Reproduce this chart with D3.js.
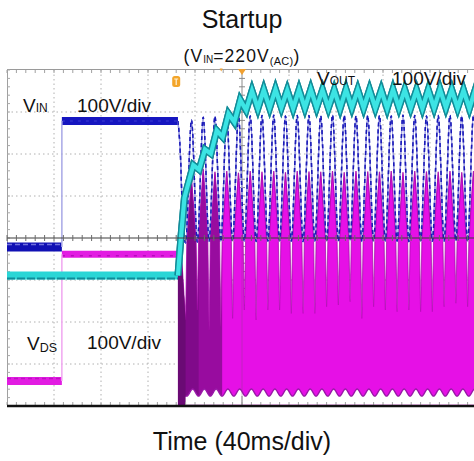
<!DOCTYPE html>
<html><head><meta charset="utf-8">
<script src="https://cdn.jsdelivr.net/npm/d3@7"></script>
<style>
body{margin:0;background:#fff}
svg{display:block}
text{font-family:"Liberation Sans",Arial,Helvetica,sans-serif;fill:#111}
</style>
</head><body>
<svg id="c" width="474" height="461"></svg>
<script>
// ---------------- data (time in ms, voltages in V) ----------------
const timeDomain = [-200, 200];          // 40 ms/div, 10 div
const divDomain = [-4, 4];               // 8 vertical divisions
const voltsPerDiv = 100;
const stepTime = -153.3;                 // AC applied
const startTime = -54.5;                 // converter starts switching

const peakTimes   = [-43,-33,-23,-13,-3,7,17,27,37,47,57,67,77,87,97,107,117,127,137,147,157,167,177,187,197];
const troughTimes = [-48,-38,-28,-18,-8,2,12,22,32,42,52,62,72,82,92,102,112,122,132,142,152,162,172,182,192,202];

// V_IN
const vinPre = 0, vinDC = 300;
const vinStartT = [-54.5, -52.5, -50.5];
const vinStartV = [300, 225, 70];
const vinPeaks   = [302,309,311,312,313,312,313,314,312,313,313,312,314,313,312,313,313,312,314,313,312,313,313,312,313];
const vinTroughs = [10,12,14,13,14,15,13,14,15,14,13,15,14,14,15,13,14,15,14,13,15,14,14,15,13,14];

// V_DS
const vdsPre = 0, vdsDC = 302;
const vdsStartT = [-54.5, -53.2];
const vdsStartV = [302, 376];
const vdsPeaks   = [480,505,498,500,496,500,498,500,497,500,499,498,500,497,500,499,498,500,497,500,499,498,500,497,500];
const vdsTroughs = [145,169,121,129,149,169,145,169,169,161,161,161,177,181,189,149,177,169,165,169,165,165,177,185,177,170];
const vdsShoulder = 338, vdsSpikeHalf = 3.9;
const vdsNotch = -19, vdsFloor = -36, vdsNotchLag = 1;

// V_OUT
const voutPre = 0;
const voutStartT = [-54.5, -52, -49];
const voutStartV = [0, 90, 185];
const voutPeakTimes   = [-41.5,-31.5,-21.5,-11.5,-1.5,8.5,18.5,28.5,38.5,48.5,58.5,68.5,78.5,88.5,98.5,108.5,118.5,128.5,138.5,148.5,158.5,168.5,178.5,188.5,198.5];
const voutTroughTimes = [-36.5,-26.5,-16.5,-6.5,3.5,13.5,23.5,33.5,43.5,53.5,63.5,73.5,83.5,93.5,103.5,113.5,123.5,133.5,143.5,153.5,163.5,173.5,183.5,193.5,203.5];
const voutPeaks   = [263,300,345,385,418,440,442,443,441,442,443,442,441,443,442,442,441,443,442,441,442,443,442,441,442];
const voutTroughs = [252,290,330,365,394,398,399,400,398,399,400,399,398,400,399,399,398,400,399,398,399,400,399,398,399];

// ---------------- scope settings ----------------
const ch = { vin: -0.214, vds: -3.405, vout: -0.893 };   // ground position (div)

const svg = d3.select("#c");
const x = d3.scaleLinear().domain(timeDomain).range([7, 477]);
const yDiv = d3.scaleLinear().domain(divDomain).range([406, 70]);
const yV = (off, v) => yDiv(off + v / voltsPerDiv);
const X0 = 7, X1 = 474, Y0 = yDiv(4), Y1 = yDiv(-4);

const defs = svg.append("defs");
defs.append("clipPath").attr("id", "plot").append("rect")
  .attr("x", X0).attr("y", Y0 - 1).attr("width", X1 - X0).attr("height", Y1 - Y0 + 1);

// ---------------- grid ----------------
const gridG = svg.append("g");
const vLines = d3.range(-160, 161, 40).filter(t => t !== 0);
const hLines = [-3, -2, -1, 1, 2, 3];
const minorT = d3.range(-200, 201, 8);
const minorD = d3.range(-4, 4.01, 0.2);
vLines.forEach(t => gridG.append("line").attr("x1", x(t)).attr("x2", x(t)).attr("y1", Y0).attr("y2", Y1)
  .attr("stroke", "#b0b0b0").attr("stroke-dasharray", "1.5 3"));
hLines.forEach(d => gridG.append("line").attr("x1", X0).attr("x2", X1).attr("y1", yDiv(d)).attr("y2", yDiv(d))
  .attr("stroke", "#b0b0b0").attr("stroke-dasharray", "1.5 3"));
gridG.append("line").attr("x1", X0).attr("x2", X1).attr("y1", Y0 - 0.5).attr("y2", Y0 - 0.5).attr("stroke", "#9a9a9a");
gridG.append("line").attr("x1", X0 + 0.5).attr("x2", X0 + 0.5).attr("y1", Y0).attr("y2", Y1).attr("stroke", "#a0a0a0");
minorT.forEach(t => gridG.append("line").attr("x1", x(t)).attr("x2", x(t)).attr("y1", Y0).attr("y2", Y0 + 3).attr("stroke", "#a0a0a0"));
minorD.forEach(d => gridG.append("line").attr("x1", X0).attr("x2", X0 + 3).attr("y1", yDiv(d)).attr("y2", yDiv(d)).attr("stroke", "#a8a8a8"));
gridG.append("line").attr("x1", x(0)).attr("x2", x(0)).attr("y1", Y0).attr("y2", Y1).attr("stroke", "#8a8a8a");
minorD.forEach(d => gridG.append("line").attr("x1", x(0) - 3).attr("x2", x(0) + 3).attr("y1", yDiv(d)).attr("y2", yDiv(d)).attr("stroke", "#8a8a8a"));

// ---------------- traces ----------------
const trG = svg.append("g").attr("clip-path", "url(#plot)");
const lineGen = d3.line().x(d => x(d[0])).y(d => d[1]);

function band(off, t0, t1, v, color, w) {
  trG.append("path").attr("d", lineGen([[t0, yV(off, v)], [t1, yV(off, v)]]))
    .attr("stroke", color).attr("stroke-width", w).attr("fill", "none");
}
function texture(off, t0, t1, v, dy, color, w, dash) {
  trG.append("path").attr("d", lineGen([[t0, yV(off, v) + dy], [t1, yV(off, v) + dy]]))
    .attr("stroke", color).attr("stroke-width", w).attr("fill", "none").attr("stroke-dasharray", dash);
}

// pre-startup bands
band(ch.vds, timeDomain[0], stepTime, vdsPre, "#e21ce2", 8);
texture(ch.vds, timeDomain[0], stepTime, vdsPre, -2.5, "#c00ec4", 1.5, "4 3");
band(ch.vds, stepTime, startTime, vdsDC, "#e21ce2", 7);
texture(ch.vds, stepTime, startTime, vdsDC, 1.5, "#b60cbc", 1.5, "3 6");
trG.append("path").attr("d", lineGen([[stepTime, yV(ch.vds, vdsPre)], [stepTime, yV(ch.vds, vdsDC)]]))
  .attr("stroke", "#f0a6f0").attr("stroke-width", 1.5).attr("fill", "none");

band(ch.vout, timeDomain[0], startTime, voutPre, "#2ad6d6", 8);
texture(ch.vout, timeDomain[0], startTime, voutPre, 3, "#108c9a", 2, "8 2");

band(ch.vin, timeDomain[0], stepTime, vinPre, "#1010b4", 9);
texture(ch.vin, timeDomain[0], stepTime, vinPre, -2.5, "#7070dc", 1.3, "5 3");
band(ch.vin, stepTime, startTime, vinDC, "#1616c0", 8);
texture(ch.vin, stepTime, startTime, vinDC, 0, "#3030cc", 1.5, "3 5");
trG.append("path").attr("d", lineGen([[stepTime, yV(ch.vin, vinPre)], [stepTime, yV(ch.vin, vinDC)]]))
  .attr("stroke", "#a8a8e6").attr("stroke-width", 1.5).attr("fill", "none");

// ---- V_DS switching envelope ----
const vdsUpper = vdsStartT.map((t, i) => [t, vdsStartV[i]]);
peakTimes.forEach((tp, i) => {
  vdsUpper.push([troughTimes[i], vdsTroughs[i]]);
  vdsUpper.push([tp - vdsSpikeHalf, vdsShoulder]);
  vdsUpper.push([tp, vdsPeaks[i]]);
  vdsUpper.push([tp + vdsSpikeHalf, vdsShoulder]);
});
vdsUpper.push([troughTimes[troughTimes.length - 1], vdsTroughs[vdsTroughs.length - 1]]);

const vdsLower = [[startTime, vdsFloor], [troughTimes[0] + vdsNotchLag, vdsFloor]];
peakTimes.forEach((tp, i) => {
  vdsLower.push([tp + vdsNotchLag, vdsNotch]);
  vdsLower.push([troughTimes[i + 1] + vdsNotchLag, vdsFloor]);
});

const magArea = d3.area().x(d => x(d[0])).y0(Y1).y1(d => yV(ch.vds, d[1]));
trG.append("path").attr("d", magArea(vdsUpper)).attr("fill", "#e610e6");
trG.append("path").attr("d", magArea(vdsUpper.filter(d => d[0] <= -16))).attr("fill", "#4a0858").attr("fill-opacity", 0.5);
trG.append("path").attr("d", magArea(vdsUpper.filter(d => d[0] <= -36))).attr("fill", "#4a0858").attr("fill-opacity", 0.3);
trG.append("path").attr("d", lineGen(vdsUpper.map(d => [d[0], yV(ch.vds, d[1])])))
  .attr("fill", "none").attr("stroke", "#a40aa8").attr("stroke-width", 1.1).attr("stroke-opacity", 0.7);
trG.append("path")
  .attr("d", d3.area().x(d => x(d[0])).y0(Y1 - 1.3).y1(d => yV(ch.vds, d[1])).curve(d3.curveMonotoneX)(vdsLower))
  .attr("fill", "#fff");
trG.append("path")
  .attr("d", d3.line().x(d => x(d[0])).y(d => yV(ch.vds, d[1])).curve(d3.curveMonotoneX)(vdsLower))
  .attr("fill", "none").attr("stroke", "#9a18a8").attr("stroke-width", 1.4);

// ---- V_IN / V_OUT paths ----
const vinPts = vinStartT.map((t, i) => [t, vinStartV[i]]);
peakTimes.forEach((tp, i) => {
  vinPts.push([troughTimes[i], vinTroughs[i]]);
  vinPts.push([tp, vinPeaks[i]]);
});
vinPts.push([troughTimes[troughTimes.length - 1], vinTroughs[vinTroughs.length - 1]]);
const vinLine = d3.line().x(d => x(d[0])).y(d => yV(ch.vin, d[1])).curve(d3.curveMonotoneX);

const voutPts = voutStartT.map((t, i) => [t, voutStartV[i]]);
voutPeakTimes.forEach((t, i) => {
  voutPts.push([t, voutPeaks[i]]);
  voutPts.push([voutTroughTimes[i], voutTroughs[i]]);
});
const voutLine = d3.line().x(d => x(d[0])).y(d => yV(ch.vout, d[1]));

function drawVin() {
  trG.append("path").attr("d", vinLine(vinPts)).attr("fill", "none")
    .attr("stroke", "#9c9ce2").attr("stroke-width", 1.3);
  trG.append("path").attr("d", vinLine(vinPts)).attr("fill", "none")
    .attr("stroke", "#1a1ab8").attr("stroke-width", 1.4).attr("stroke-dasharray", "4 3");
}
function drawVout() {
  trG.append("path").attr("d", voutLine(voutPts)).attr("fill", "none")
    .attr("stroke", "#128c98").attr("stroke-width", 7);
  trG.append("path").attr("d", voutLine(voutPts)).attr("fill", "none")
    .attr("stroke", "#3ce4e4").attr("stroke-width", 4.2);
}
drawVin();
drawVout();

// ---- V_DS switching spikes (each drawn on its own, above the shoulder) ----
const spikeArea = d3.area().x(d => x(d[0])).y0(yV(ch.vds, vdsShoulder) + 3).y1(d => yV(ch.vds, d[1]));
const spikeG = trG.append("g");
peakTimes.forEach((tp, i) => {
  const pts = [[tp - vdsSpikeHalf, vdsShoulder], [tp, vdsPeaks[i]], [tp + vdsSpikeHalf, vdsShoulder]];
  spikeG.append("path").attr("d", spikeArea(pts)).attr("fill", "#e610e6");
  if (tp <= -16) spikeG.append("path").attr("d", spikeArea(pts)).attr("fill", "#4a0858").attr("fill-opacity", tp <= -36 ? 0.65 : 0.5);
  spikeG.append("path").attr("d", lineGen(pts.map(d => [d[0], yV(ch.vds, d[1])])))
    .attr("fill", "none").attr("stroke", "#a40aa8").attr("stroke-width", 1.1).attr("stroke-opacity", 0.7);
});
const burst = [[vdsStartT[0], vdsStartV[0]], [vdsStartT[1], vdsStartV[1]], [troughTimes[0], vdsTroughs[0]]];
spikeG.append("path").attr("d", magArea(burst)).attr("fill", "#6a0a74");
drawVin();
drawVout();

// ---- axes on top ----
const ovG = svg.append("g");
ovG.append("line").attr("x1", X0).attr("x2", X1).attr("y1", yDiv(0)).attr("y2", yDiv(0))
  .attr("stroke", "#3c3c3c").attr("stroke-width", 1);
minorT.forEach(t => ovG.append("line").attr("x1", x(t)).attr("x2", x(t)).attr("y1", yDiv(0) - 3).attr("y2", yDiv(0) + 3)
  .attr("stroke", "#6a6a6a"));
ovG.append("line").attr("x1", x(0)).attr("x2", x(0)).attr("y1", yDiv(0)).attr("y2", Y1)
  .attr("stroke", "#7a4a7a").attr("stroke-opacity", 0.35);
ovG.append("line").attr("x1", x(0)).attr("x2", x(0)).attr("y1", Y1 - 10).attr("y2", Y1)
  .attr("stroke", "#8a8a8a");
minorT.forEach(t => ovG.append("line").attr("x1", x(t)).attr("x2", x(t)).attr("y1", Y1 - 4).attr("y2", Y1 - 1).attr("stroke", "#a0a0a0"));
ovG.append("line").attr("x1", X0).attr("x2", X1).attr("y1", Y1).attr("y2", Y1)
  .attr("stroke", "#111").attr("stroke-width", 2.6);

// trigger markers
ovG.append("path").attr("d", `M${x(0)-4},${Y0-1} L${x(0)+4},${Y0-1} L${x(0)},${Y0+5} Z`).attr("fill", "#f0a030");
ovG.append("path").attr("d", `M${x(-19)},${Y0-1.5} l3,0 l-1.5,3 Z`).attr("fill", "#f0a030");
const tmG = ovG.append("g").attr("transform", `translate(${x(-56)},82)`);
tmG.append("rect").attr("x", -4).attr("y", -6).attr("width", 8).attr("height", 11).attr("rx", 2.5).attr("fill", "#f3a52a");
tmG.append("path").attr("d", "M-2,-3 L2,-3 M0,-3 L0,3").attr("stroke", "#fff3d8").attr("stroke-width", 1.2);

// ---------------- text ----------------
svg.append("text").attr("x", 242).attr("y", 28).attr("text-anchor", "middle").attr("font-size", 25).text("Startup");
const subT = svg.append("text").attr("x", 242).attr("y", 62).attr("text-anchor", "middle")
  .attr("font-size", 17.5).attr("letter-spacing", 1.1);
subT.append("tspan").text("(V");
subT.append("tspan").attr("font-size", 10).attr("dy", 0.5).attr("letter-spacing", 0).text("IN");
subT.append("tspan").attr("dy", -0.5).text("=220V");
subT.append("tspan").attr("font-size", 11).attr("dy", 3).attr("letter-spacing", 0.3).text("(AC)");
subT.append("tspan").attr("dy", -3).text(")");

function chanLabel(xp, yp, main, subTxt, subSize, subDy) {
  const t = svg.append("text").attr("x", xp).attr("y", yp).attr("font-size", 19);
  t.append("tspan").text(main);
  t.append("tspan").attr("font-size", subSize).attr("dy", subDy).text(subTxt);
}
chanLabel(23, 112, "V", "IN", 12, 0);
svg.append("text").attr("x", 77).attr("y", 112).attr("font-size", 19).text("100V/div");
chanLabel(317, 85, "V", "OUT", 12, 0);
svg.append("text").attr("x", 392).attr("y", 85).attr("font-size", 19).text("100V/div");
chanLabel(27, 350, "V", "DS", 12.5, 2);
svg.append("text").attr("x", 87).attr("y", 349).attr("font-size", 19).text("100V/div");

svg.append("text").attr("x", 242).attr("y", 450).attr("text-anchor", "middle").attr("font-size", 25).text("Time (40ms/div)");
</script>
</body></html>
